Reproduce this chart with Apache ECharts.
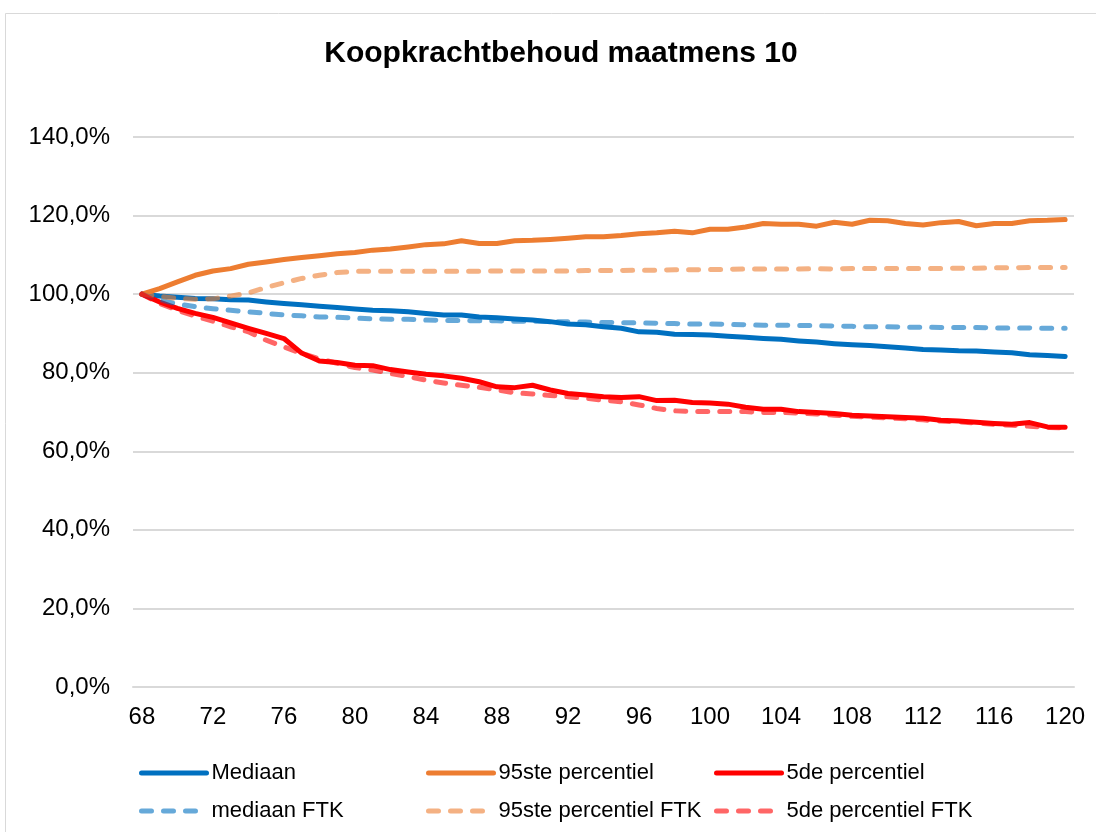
<!DOCTYPE html>
<html>
<head>
<meta charset="utf-8">
<script src="https://cdn.jsdelivr.net/npm/echarts@6/dist/echarts.min.js"></script>
<style>
  html, body { margin: 0; padding: 0; background: #fff; }
  #chart { width: 1096px; height: 832px; }
</style>
</head>
<body>
<div id="chart"></div>
<script>
// leeftijden 68 t/m 120
const ages = [];
for (let a = 68; a <= 120; a++) ages.push(String(a));

const mediaan = [100, 99.5, 99.2, 98.9, 98.8, 98.6, 98.5, 98.0, 97.6, 97.3, 96.9, 96.6, 96.2, 95.9, 95.8, 95.5, 95.1, 94.7,
  94.7, 94.2, 94.0, 93.7, 93.4, 93.0, 92.4, 92.2, 91.7, 91.3, 90.4, 90.3, 89.8, 89.7, 89.6, 89.3, 89.0, 88.7,
  88.5, 88.1, 87.8, 87.4, 87.1, 86.9, 86.6, 86.3, 85.9, 85.8, 85.6, 85.5, 85.3, 85.1, 84.6, 84.4, 84.1];

const p95 = [100, 101.4, 103.1, 104.8, 105.9, 106.5, 107.6, 108.2, 108.8, 109.3, 109.8, 110.3, 110.6, 111.2, 111.5, 112.0, 112.6, 112.8,
  113.6, 112.9, 112.9, 113.6, 113.7, 113.9, 114.2, 114.6, 114.6, 114.9, 115.4, 115.6, 116.0, 115.6, 116.5, 116.5, 117.1, 118.0,
  117.8, 117.8, 117.3, 118.3, 117.8, 118.8, 118.7, 118.0, 117.6, 118.2, 118.5, 117.4, 118.0, 118.0, 118.7, 118.8, 119.0];

const p5 = [100, 98.0, 96.4, 95.1, 94.1, 92.7, 91.3, 90.0, 88.7, 85.0, 83.0, 82.6, 81.9, 81.8, 80.8, 80.2, 79.6, 79.2,
  78.6, 77.7, 76.4, 76.2, 76.8, 75.6, 74.7, 74.3, 73.9, 73.7, 73.9, 72.9, 73.0, 72.4, 72.3, 72.0, 71.2, 70.7,
  70.7, 70.1, 69.9, 69.6, 69.2, 69.0, 68.8, 68.6, 68.4, 67.9, 67.7, 67.4, 67.1, 66.9, 67.3, 66.2, 66.1];

const mediaanFtk = [100, 98.5, 97.5, 96.8, 96.3, 95.9, 95.5, 95.1, 94.7, 94.5, 94.2, 94.1, 93.9, 93.7, 93.6, 93.6, 93.4, 93.3,
  93.3, 93.2, 93.2, 93.1, 93.1, 93.0, 93.0, 92.9, 92.8, 92.7, 92.7, 92.6, 92.5, 92.4, 92.4, 92.3, 92.2, 92.1,
  92.1, 92.0, 92.0, 91.9, 91.8, 91.7, 91.7, 91.6, 91.6, 91.5, 91.5, 91.5, 91.4, 91.4, 91.4, 91.3, 91.3];

const p95Ftk = [100, 99.5, 98.9, 98.7, 98.8, 99.5, 100.3, 101.7, 102.9, 104.0, 104.8, 105.5, 105.8, 105.8, 105.8, 105.8, 105.8, 105.8,
  105.8, 105.8, 105.9, 105.9, 105.9, 105.9, 105.9, 106.0, 106.0, 106.0, 106.1, 106.1, 106.2, 106.2, 106.3, 106.3, 106.4, 106.4,
  106.4, 106.4, 106.5, 106.4, 106.5, 106.5, 106.5, 106.5, 106.5, 106.5, 106.6, 106.6, 106.7, 106.7, 106.8, 106.8, 106.8];

const p5Ftk = [100, 97.6, 95.9, 94.4, 93.1, 91.7, 90.4, 88.3, 86.6, 84.9, 83.5, 82.4, 81.3, 80.7, 79.8, 79.0, 78.1, 77.4,
  76.8, 76.3, 75.6, 74.9, 74.6, 74.2, 73.9, 73.5, 73.0, 72.6, 71.8, 70.9, 70.3, 70.1, 70.1, 70.1, 70.1, 69.9,
  69.9, 69.7, 69.5, 69.2, 68.9, 68.7, 68.5, 68.3, 68.0, 67.7, 67.5, 67.2, 66.9, 66.6, 66.4, 66.1, 65.9];

const font = 'Liberation Sans, Arial, sans-serif'

function lijn(name, data, color, dashed) {
  return {
    name: name,
    type: 'line',
    data: data,
    showSymbol: false,
    symbol: 'none',
    z: dashed ? 3 : 2,
    lineStyle: {
      color: color,
      width: 5,
      type: dashed ? [10, 12] : 'solid',
      cap: 'round',
      join: 'round',
      opacity: dashed ? 0.6 : 1
    },
    itemStyle: { color: color, opacity: dashed ? 0.6 : 1 }
  }
}

// één legenda per item, zodat de kolommen vast staan
function legenda(name, left, top) {
  return {
    left: left,
    top: top,
    itemWidth: 65,
    itemHeight: 14,
    data: [name],
    itemStyle: { opacity: 0 },
    lineStyle: { width: 5, cap: 'round' },
    textStyle: { fontFamily: font, fontSize: 22, color: '#000' }
  }
}

const chart = echarts.init(document.getElementById('chart'))

chart.setOption({
  animation: false,
  backgroundColor: '#fff',
  graphic: [{
    type: 'rect',
    shape: { x: 5.5, y: 13.5, width: 1200, height: 1000 },
    style: { fill: 'none', stroke: '#d9d9d9', lineWidth: 1 },
    silent: true
  }],
  title: {
    text: 'Koopkrachtbehoud maatmens 10',
    left: 556,
    textAlign: 'center',
    top: 34,
    textStyle: { fontFamily: font, fontSize: 30, fontWeight: 'bold', color: '#000' }
  },
  legend: [
    legenda('Mediaan', 134, 757),
    legenda('95ste percentiel', 421, 757),
    legenda('5de percentiel', 709, 757),
    legenda('mediaan FTK', 134, 795),
    legenda('95ste percentiel FTK', 421, 795),
    legenda('5de percentiel FTK', 709, 795)
  ],
  grid: { left: 133, right: 22, top: 137, bottom: 145 },
  xAxis: {
    type: 'category',
    data: ages,
    boundaryGap: true,
    axisLine: { lineStyle: { color: '#d9d9d9', width: 2 } },
    axisTick: { show: false },
    axisLabel: { interval: 3, margin: 18, fontFamily: font, fontSize: 24, color: '#000' }
  },
  yAxis: {
    type: 'value',
    min: 0,
    max: 140,
    interval: 20,
    axisLine: { show: false },
    axisTick: { show: false },
    splitLine: { lineStyle: { color: '#d9d9d9', width: 2 } },
    axisLabel: {
      margin: 23,
      fontFamily: font,
      fontSize: 24,
      color: '#000',
      formatter: v => v.toFixed(1).replace('.', ',') + '%'
    }
  },
  series: [
    lijn('Mediaan', mediaan, '#0070C0', false),
    lijn('95ste percentiel', p95, '#ED7D31', false),
    lijn('5de percentiel', p5, '#FF0000', false),
    lijn('mediaan FTK', mediaanFtk, '#0070C0', true),
    lijn('95ste percentiel FTK', p95Ftk, '#ED7D31', true),
    lijn('5de percentiel FTK', p5Ftk, '#FF0000', true)
  ]
});
</script>
</body>
</html>
